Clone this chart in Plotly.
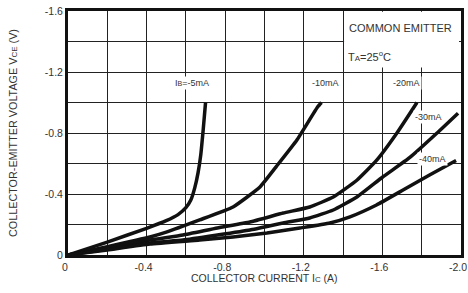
import plotly.graph_objects as go

# Data (Ic in A, Vce in V)
ib5_x = [0, -0.2, -0.4, -0.5, -0.56, -0.6, -0.625, -0.645, -0.662, -0.676, -0.688, -0.70]
ib5_y = [0, -0.085, -0.175, -0.225, -0.265, -0.31, -0.36, -0.44, -0.54, -0.66, -0.82, -1.0]

ib10_x = [0, -0.2, -0.417, -0.5, -0.67, -0.84, -0.977, -1.06, -1.165, -1.27, -1.29]
ib10_y = [0, -0.055, -0.118, -0.15, -0.23, -0.315, -0.446, -0.58, -0.754, -0.97, -1.0]

ib20_x = [0, -0.2, -0.417, -0.585, -0.76, -0.926, -1.095, -1.23, -1.35, -1.47, -1.57, -1.674, -1.776]
ib20_y = [0, -0.045, -0.098, -0.131, -0.177, -0.216, -0.275, -0.315, -0.38, -0.49, -0.62, -0.80, -1.0]

ib30_x = [0, -0.2, -0.417, -0.585, -0.76, -0.926, -1.095, -1.23, -1.35, -1.47, -1.60, -1.74, -1.878, -1.985]
ib30_y = [0, -0.037, -0.079, -0.098, -0.131, -0.164, -0.21, -0.243, -0.295, -0.38, -0.51, -0.64, -0.80, -0.93]

ib40_x = [0, -0.2, -0.417, -0.67, -0.84, -1.013, -1.18, -1.333, -1.435, -1.57, -1.705, -1.84, -1.975]
ib40_y = [0, -0.033, -0.072, -0.098, -0.118, -0.144, -0.177, -0.21, -0.25, -0.328, -0.426, -0.525, -0.62]

series = [(ib5_x, ib5_y), (ib10_x, ib10_y), (ib20_x, ib20_y), (ib30_x, ib30_y), (ib40_x, ib40_y)]

x_grid = [0, -0.2, -0.4, -0.6, -0.8, -1.0, -1.2, -1.4, -1.6, -1.8, -2.0]
x_labels = ["0", "", "-0.4", "", "-0.8", "", "-1.2", "", "-1.6", "", "-2.0"]
y_grid = [0, -0.2, -0.4, -0.6, -0.8, -1.0, -1.2, -1.4, -1.6]
y_labels = ["0", "", "-0.4", "", "-0.8", "", "-1.2", "", "-1.6"]

curve_labels = ["I<span style='font-size:7px'>B</span>=-5mA", "-10mA", "-20mA", "-30mA", "-40mA"]
label_x = [-0.63, -1.31, -1.725, -1.835, -1.855]
label_y = [-1.128, -1.128, -1.128, -0.905, -0.63]

x_title = "COLLECTOR CURRENT I<span style='font-size:8px'>C</span> (A)"
y_title = "COLLECTOR-EMITTER VOLTAGE V<span style='font-size:8px'>CE</span> (V)"

FONT = "Liberation Sans, Arial, sans-serif"
TXT = "#333333"

fig = go.Figure()
for sx, sy in series:
    fig.add_trace(go.Scatter(x=sx, y=sy, mode="lines",
                             line=dict(color="#111111", width=3.5, shape="spline", smoothing=0.4),
                             hoverinfo="skip", showlegend=False))

fig.add_shape(type="rect", x0=-1.405, x1=-1.99, y0=-1.23, y1=-1.595,
              fillcolor="white", line=dict(width=0), layer="above")

for t, lx, ly in zip(curve_labels, label_x, label_y):
    fig.add_annotation(x=lx, y=ly, text=t, showarrow=False, bgcolor="white",
                       font=dict(size=9, color=TXT, family=FONT), borderpad=1)

fig.add_annotation(x=-1.69, y=-1.49, text="COMMON EMITTER", showarrow=False,
                   font=dict(size=11, color=TXT, family=FONT))
fig.add_annotation(x=-1.415, y=-1.305, xanchor="left",
                   text="T<span style='font-size:8px'>A</span>=25<sup>o</sup>C", showarrow=False,
                   font=dict(size=11, color=TXT, family=FONT))

# axis titles
fig.add_annotation(xref="paper", yref="paper", x=0.5, y=-0.094, xanchor="center", yanchor="middle",
                   text=x_title, showarrow=False, font=dict(size=10.5, color=TXT, family=FONT))
fig.add_annotation(xref="paper", yref="paper", x=-0.14, y=0.5, xanchor="center", yanchor="middle",
                   text=y_title, textangle=-90,
                   showarrow=False, font=dict(size=10.8, color=TXT, family=FONT))

axis_common = dict(showline=True, mirror=True, linecolor="#111111", linewidth=3,
                   showgrid=True, gridcolor="#222222", gridwidth=1, zeroline=False,
                   ticks="", automargin=False, ticklabeloverflow="allow",
                   tickfont=dict(size=10.5, color=TXT, family=FONT))

fig.update_xaxes(range=[0, -2.0], tickvals=x_grid, ticktext=x_labels, ticklabelshift=3,
                 **axis_common)
fig.update_yaxes(range=[0, -1.6], tickvals=y_grid, ticktext=y_labels, **axis_common)

fig.update_layout(width=468, height=293, margin=dict(l=68, r=7, t=11, b=38),
                  plot_bgcolor="white", paper_bgcolor="white")

fig.write_html("out.html", config={"displayModeBar": False, "staticPlot": True},
               post_script="document.body.style.margin='0';")
